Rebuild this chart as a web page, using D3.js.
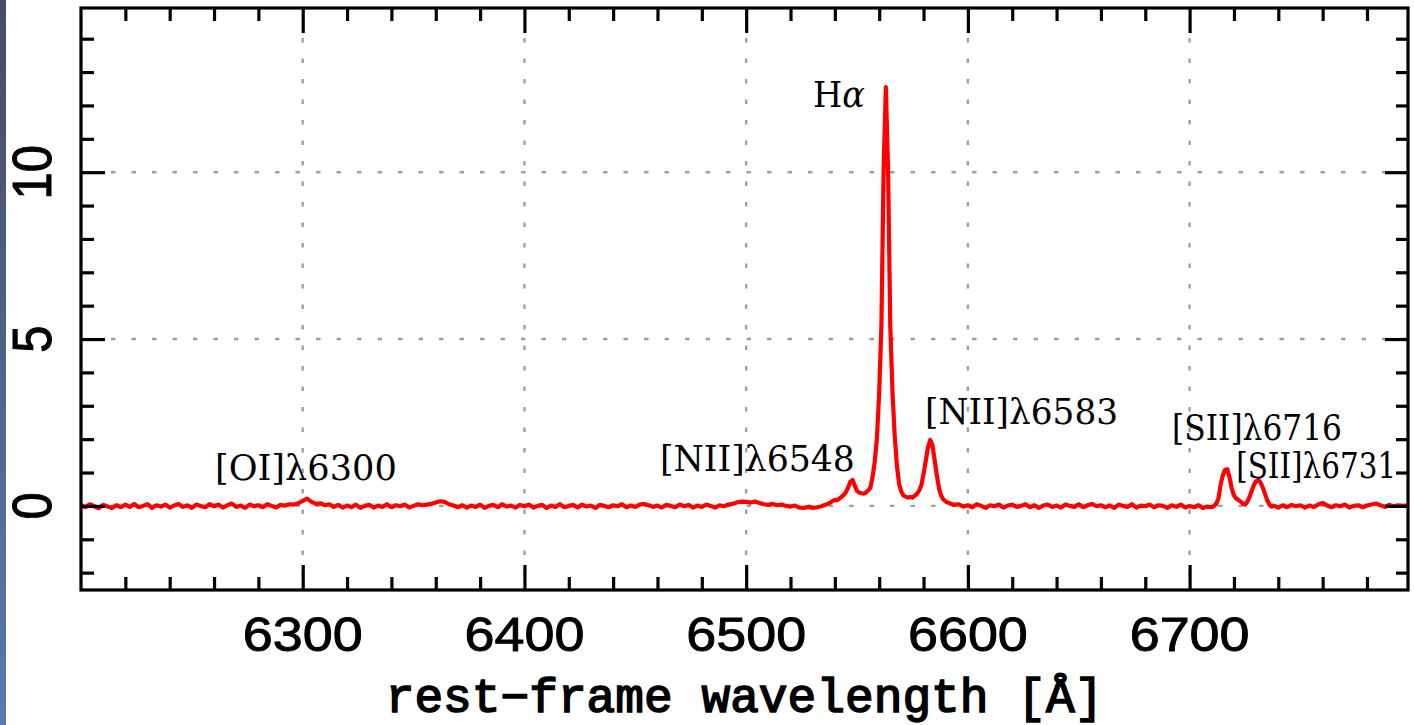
<!DOCTYPE html>
<html>
<head>
<meta charset="utf-8">
<script src="https://cdn.jsdelivr.net/npm/d3@7"></script>
<style>
  html, body { margin: 0; padding: 0; background: #ffffff; }
  svg { display: block; }
</style>
</head>
<body>
<svg id="chart" width="1414" height="725"></svg>
<script>
// ---------------- DATA ----------------
const wavelength = [
  6200,6202,6204,6206,6208,6210,6212,6214,6216,6218,
  6220,6222,6224,6226,6228,6230,6232,6234,6236,6238,
  6240,6242,6244,6246,6248,6250,6252,6254,6256,6258,
  6260,6262,6264,6266,6268,6270,6272,6274,6276,6278,
  6280,6282,6284,6286,6288,6290,6292,6294,6296,6298,
  6300,6302,6304,6306,6308,6310,6312,6314,6316,6318,
  6320,6322,6324,6326,6328,6330,6332,6334,6336,6338,
  6340,6342,6344,6346,6348,6350,6352,6354,6356,6358,
  6360,6362,6364,6366,6368,6370,6372,6374,6376,6378,
  6380,6382,6384,6386,6388,6390,6392,6394,6396,6398,
  6400,6402,6404,6406,6408,6410,6412,6414,6416,6418,
  6420,6422,6424,6426,6428,6430,6432,6434,6436,6438,
  6440,6442,6444,6446,6448,6450,6452,6454,6456,6458,
  6460,6462,6464,6466,6468,6470,6472,6474,6476,6478,
  6480,6482,6484,6486,6488,6490,6492,6494,6496,6498,
  6500,6502,6504,6506,6508,6510,6512,6514,6516,6518,
  6520,6522,6524,6526,6528,6530,6532,6534,6536,6538,
  6539,6540,6541,6542,6543,6544,6545,6546,6547,6548,
  6549,6550,6551,6552,6553,6554,6555,6556,6557,6558,
  6559,6560,6561,6562,6563,6564,6565,6566,6567,6568,
  6569,6570,6571,6572,6573,6574,6575,6576,6577,6578,
  6579,6580,6581,6582,6583,6584,6585,6586,6587,6588,
  6589,6590,6591,
  6592,6594,6596,6598,
  6600,6602,6604,6606,6608,6610,6612,6614,6616,6618,
  6620,6622,6624,6626,6628,6630,6632,6634,6636,6638,
  6640,6642,6644,6646,6648,6650,6652,6654,6656,6658,
  6660,6662,6664,6666,6668,6670,6672,6674,6676,6678,
  6680,6682,6684,6686,6688,6690,6692,6694,6696,6698,
  6700,6702,6704,6706,6708,6710,
  6711,6712,6713,6714,6715,6716,6717,6718,6719,6720,
  6721,6722,6723,6724,6725,6726,6727,6728,6729,6730,
  6731,6732,6733,6734,6735,6736,6737,
  6738,6740,6742,6744,6746,6748,6750,6752,6754,6756,
  6758,6760,6762,6764,6766,6768,6770,6772,6774,6776,
  6778,6780,6782,6784,6786,6788,6790,6792,6794,6796,
  6798
];

const flux = [
  0.02,-0.04,0.05,-0.01,-0.07,0.03,-0.02,-0.06,0.02,-0.04,
  0.04,-0.03,0.06,-0.04,0.00,0.05,-0.06,0.02,-0.02,0.04,
  -0.05,0.01,0.06,-0.03,0.02,-0.06,0.04,0.00,-0.04,0.05,
  -0.01,0.04,-0.05,0.02,0.07,-0.03,0.01,-0.06,0.04,-0.01,
  0.02,-0.04,0.05,0.00,-0.05,0.03,0.01,0.05,0.04,0.08,
  0.15,0.22,0.12,0.06,0.08,0.02,0.05,-0.03,0.03,-0.05,
  0.01,-0.04,0.04,-0.06,0.00,0.03,-0.05,0.01,-0.03,0.05,
  -0.04,0.02,-0.01,0.04,-0.05,0.00,0.05,0.02,0.04,0.06,
  0.10,0.14,0.12,0.05,0.01,-0.04,0.02,-0.05,0.01,-0.03,
  0.04,-0.06,0.00,0.03,-0.04,0.05,-0.02,0.01,-0.05,0.03,
  -0.01,0.04,-0.05,0.00,0.03,-0.06,0.01,-0.03,0.05,-0.04,
  0.00,0.03,-0.05,0.04,-0.02,0.01,-0.06,0.03,0.00,-0.04,
  0.02,-0.01,0.05,-0.04,0.01,-0.03,0.04,0.06,0.02,-0.03,
  0.01,-0.05,0.03,0.00,-0.04,0.04,-0.01,0.03,-0.05,0.01,
  -0.03,0.04,0.00,-0.05,0.02,-0.01,0.04,0.06,0.11,0.13,
  0.12,0.10,0.13,0.09,0.05,0.03,0.06,0.02,0.04,0.00,
  -0.02,0.01,-0.05,-0.06,-0.03,-0.06,-0.04,-0.01,0.04,0.10,
  0.15,0.18,0.17,0.22,0.27,0.33,0.42,0.55,0.72,0.78,
  0.60,0.45,0.40,0.38,0.37,0.40,0.46,0.54,0.86,1.33,
  2.05,3.40,5.40,10.10,12.55,10.10,5.40,3.40,2.10,1.20,
  0.65,0.42,0.31,0.28,0.25,0.27,0.25,0.30,0.36,0.46,
  0.62,0.95,1.35,1.75,1.98,1.82,1.38,0.92,0.52,0.30,
  0.19,0.13,0.10,
  0.07,0.03,0.05,-0.02,
  0.02,-0.04,0.05,0.00,-0.06,0.02,-0.01,0.04,-0.05,0.01,
  0.04,-0.03,0.00,0.05,-0.04,0.02,-0.06,0.01,0.04,-0.03,
  0.01,-0.05,0.04,0.00,-0.03,0.05,-0.04,0.02,0.06,-0.01,
  0.02,-0.04,0.01,-0.06,0.04,0.00,-0.03,0.05,-0.05,0.01,
  -0.01,0.04,-0.04,0.02,0.00,-0.06,0.02,-0.03,0.04,-0.05,
  0.00,-0.04,0.02,-0.06,-0.02,-0.04,
  0.00,0.06,0.22,0.64,0.92,1.08,1.10,0.86,0.52,0.32,
  0.22,0.18,0.13,0.07,0.04,0.12,0.26,0.45,0.63,0.74,
  0.78,0.70,0.55,0.36,0.17,0.04,-0.02,
  0.01,-0.05,0.02,-0.04,0.03,-0.01,0.02,-0.05,0.01,-0.03,
  0.04,0.09,0.01,-0.04,0.02,-0.01,0.04,-0.05,0.00,0.02,
  -0.04,0.01,0.04,0.07,0.02,-0.03,0.03,-0.01,0.02,0.00,
  0.01
];

const xMajorTicks = [6300, 6400, 6500, 6600, 6700];
const xMinorTicks = [6220,6240,6260,6280,6320,6340,6360,6380,6420,6440,6460,6480,
                     6520,6540,6560,6580,6620,6640,6660,6680,6720,6740,6760,6780];
const yMajorTicks = [0, 5, 10];
const yMinorTicks = [-2,-1,1,2,3,4,6,7,8,9,11,12,13,14];
const xTickLabels = ["6300", "6400", "6500", "6600", "6700"];
const yTickLabels = ["0", "5", "10"];
const xAxisTitle = "rest\u2212frame wavelength [\u00C5]";

// emission-line annotations: text, anchor wavelength, anchor flux (data units)
const lineLabelTexts = ["[OI]\u03bb6300", "H", "[NII]\u03bb6548", "[NII]\u03bb6583", "[SII]\u03bb6716", "[SII]\u03bb6731"];
const lineLabelWavelengths = [6260.4, 6530.1, 6461.1, 6580.7, 6692.1, 6721.0];
const lineLabelFluxes = [0.78, 11.95, 1.05, 2.45, 1.97, 0.84];

// ---------------- LAYOUT ----------------
const W = 1414, H = 725;
const plot = { left: 81, right: 1408, top: 8, bottom: 590 };
const labelWidths = [182, 52, 195, 193, 170, 160];

const svg = d3.select("#chart");

// left decorative strip
const defs = svg.append("defs");
const grad = defs.append("linearGradient").attr("id", "strip").attr("x1", 0).attr("y1", 0).attr("x2", 0).attr("y2", 1);
grad.append("stop").attr("offset", "0%").attr("stop-color", "#434e63");
grad.append("stop").attr("offset", "100%").attr("stop-color", "#5b79ad");
svg.append("rect").attr("x", 0).attr("y", 0).attr("width", 6).attr("height", H).attr("fill", "url(#strip)");

defs.append("clipPath").attr("id", "plotclip")
  .append("rect").attr("x", plot.left).attr("y", plot.top)
  .attr("width", plot.right - plot.left).attr("height", plot.bottom - plot.top);

const x = d3.scaleLinear().domain([6200, 6798.5]).range([plot.left, plot.right]);
const y = d3.scaleLinear().domain([-2.52, 14.92]).range([plot.bottom, plot.top]);

// grid (dotted)
const grid = svg.append("g").attr("stroke", "#a0a0a0").attr("stroke-width", 2.4).attr("stroke-dasharray", "4.5,16");
grid.selectAll("line.gx").data(xMajorTicks).join("line").attr("class", "gx")
  .attr("x1", d => x(d)).attr("x2", d => x(d)).attr("y1", plot.top + 30).attr("y2", plot.bottom);
grid.selectAll("line.gy").data(yMajorTicks).join("line").attr("class", "gy")
  .attr("y1", d => y(d)).attr("y2", d => y(d)).attr("x1", plot.left + 30).attr("x2", plot.right);

// spectrum
const pts = wavelength.map((w, i) => [w, flux[i]]);
const line = d3.line().x(d => x(d[0])).y(d => y(d[1]));
svg.append("path").datum(pts)
  .attr("clip-path", "url(#plotclip)")
  .attr("d", line)
  .attr("fill", "none").attr("stroke", "#ff0000").attr("stroke-width", 4.2)
  .attr("stroke-linejoin", "round").attr("stroke-linecap", "round");

// ticks on all four sides (pointing inward)
function drawAxis(axis, tx, ty) {
  const g = svg.append("g").attr("transform", `translate(${tx},${ty})`).call(axis);
  g.select(".domain").remove();
  g.selectAll("text").remove();
  g.selectAll(".tick line").attr("stroke", "#000").attr("stroke-width", 3.2);
  return g;
}
const MAJ = 25, MIN = 13;
drawAxis(d3.axisBottom(x).tickValues(xMajorTicks).tickSize(-MAJ).tickFormat(""), 0, plot.bottom);
drawAxis(d3.axisBottom(x).tickValues(xMinorTicks).tickSize(-MIN).tickFormat(""), 0, plot.bottom);
drawAxis(d3.axisTop(x).tickValues(xMajorTicks).tickSize(-MAJ).tickFormat(""), 0, plot.top);
drawAxis(d3.axisTop(x).tickValues(xMinorTicks).tickSize(-MIN).tickFormat(""), 0, plot.top);
drawAxis(d3.axisLeft(y).tickValues(yMajorTicks).tickSize(-24).tickFormat(""), plot.left, 0);
drawAxis(d3.axisLeft(y).tickValues(yMinorTicks).tickSize(-MIN).tickFormat(""), plot.left, 0);
drawAxis(d3.axisRight(y).tickValues(yMajorTicks).tickSize(-23).tickFormat(""), plot.right, 0);
drawAxis(d3.axisRight(y).tickValues(yMinorTicks).tickSize(-12).tickFormat(""), plot.right, 0);

// frame
svg.append("rect").attr("x", plot.left).attr("y", plot.top)
  .attr("width", plot.right - plot.left).attr("height", plot.bottom - plot.top)
  .attr("fill", "none").attr("stroke", "#000").attr("stroke-width", 3.2);

// tick labels
const tickFont = "'Liberation Sans', Arial, sans-serif";
svg.append("g").selectAll("text").data(xMajorTicks).join("text")
  .attr("transform", d => `translate(${x(d)},651) scale(1.1,1)`)
  .attr("text-anchor", "middle")
  .attr("font-family", tickFont).attr("font-size", 49).attr("fill", "#000")
  .attr("stroke", "#000").attr("stroke-width", 0.9)
  .text((d, i) => xTickLabels[i]);

svg.append("g").selectAll("text").data(yMajorTicks).join("text")
  .attr("transform", d => `translate(51,${y(d)}) scale(1.12,1) rotate(-90)`)
  .attr("text-anchor", "middle")
  .attr("font-family", tickFont).attr("font-size", 49).attr("fill", "#000")
  .attr("stroke", "#000").attr("stroke-width", 0.9)
  .text((d, i) => yTickLabels[i]);

// axis title (horizontally scaled to the reference width)
const title = svg.append("text")
  .attr("text-anchor", "middle")
  .attr("font-family", "'Liberation Mono', 'Courier New', monospace")
  .attr("font-size", 48).attr("fill", "#000")
  .attr("stroke", "#000").attr("stroke-width", 1.6)
  .text(xAxisTitle);
{
  const w = title.node().getComputedTextLength();
  title.attr("transform", `translate(${(plot.left + plot.right) / 2},712) scale(${718 / w},1)`);
}

// emission-line labels (each stretched horizontally to the reference width)
const labG = svg.append("g").attr("font-family", "'DejaVu Serif', 'Liberation Serif', serif")
  .attr("font-size", 35.5).attr("fill", "#000");
lineLabelTexts.forEach((t, i) => {
  const tx = labG.append("text").attr("x", 0).attr("y", 0);
  if (t === "H") {
    tx.append("tspan").text("H");
    tx.append("tspan").attr("font-style", "italic").text("\u03b1");
  } else {
    tx.text(t);
  }
  const w = tx.node().getComputedTextLength();
  tx.attr("transform",
    `translate(${x(lineLabelWavelengths[i])},${y(lineLabelFluxes[i])}) scale(${labelWidths[i] / w},1)`);
});
</script>
</body>
</html>
